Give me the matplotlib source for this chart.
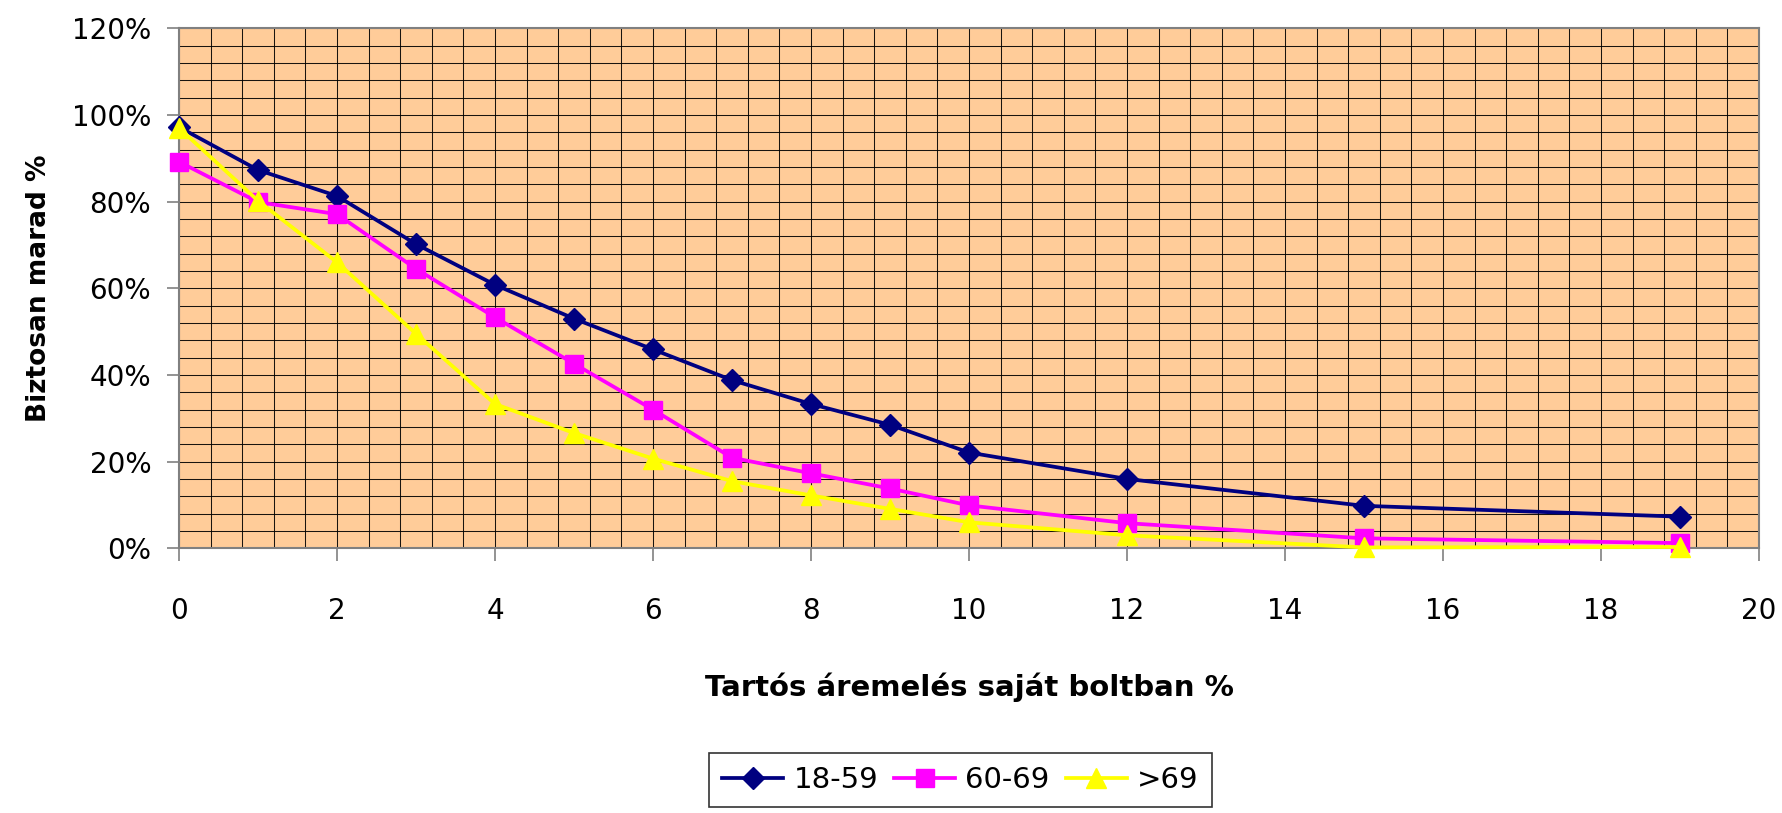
import numpy as np
import matplotlib
matplotlib.use("Agg")
import matplotlib.pyplot as plt
from matplotlib.ticker import MultipleLocator, FuncFormatter

# Adatok (leolvasva a diagramról)
aremeles = [0, 1, 2, 3, 4, 5, 6, 7, 8, 9, 10, 12, 15, 19]
kor_18_59 = [97.2, 87.3, 81.3, 70.2, 60.8, 53.0, 45.9, 38.8, 33.3, 28.5, 22.1, 16.0, 9.8, 7.3]
kor_60_69 = [89.2, 79.9, 77.1, 64.5, 53.3, 42.6, 32.0, 20.9, 17.3, 13.8, 9.9, 5.8, 2.3, 1.2]
kor_69_felett = [97.0, 80.2, 66.0, 49.5, 33.3, 26.6, 20.7, 15.5, 12.2, 9.1, 6.0, 3.0, 0.2, 0.3]

sorozat_nevek = ["18-59", "60-69", ">69"]

plt.rcParams['font.family'] = ['DejaVu Sans']

fig = plt.figure(figsize=(17.83, 8.13), dpi=100)
ax = fig.add_axes([0.1004, 0.3256, 0.8861, 0.6396])
ax.set_facecolor('#FFCC99')

ax.plot(aremeles, kor_18_59, color='#000080', lw=2.7, marker='D', markersize=11,
        label=sorozat_nevek[0], zorder=3, clip_on=False)
ax.plot(aremeles, kor_60_69, color='#FF00FF', lw=2.7, marker='s', markersize=12.5,
        label=sorozat_nevek[1], zorder=4, clip_on=False)
ax.plot(aremeles, kor_69_felett, color='#FFFF00', lw=2.7, marker='^', markersize=14,
        label=sorozat_nevek[2], zorder=5, clip_on=False)

ax.set_xlim(0, 20)
ax.set_ylim(0, 120)
ax.xaxis.set_major_locator(MultipleLocator(2))
ax.yaxis.set_major_locator(MultipleLocator(20))
ax.xaxis.set_minor_locator(MultipleLocator(0.4))
ax.yaxis.set_minor_locator(MultipleLocator(4))
ax.yaxis.set_major_formatter(FuncFormatter(lambda v, p: f"{v:.0f}%"))

ax.grid(which='both', color='black', lw=0.75, alpha=0.9, zorder=1)
ax.set_axisbelow(True)

ax.tick_params(which='minor', length=0)
ax.tick_params(which='major', direction='out', length=9, width=1.2, color='#808080',
               labelsize=20)
ax.tick_params(axis='x', which='major', pad=26)
ax.tick_params(axis='y', which='major', pad=11)

for s in ax.spines.values():
    s.set_color('#808080')
    s.set_linewidth(1.5)

ax.set_xlabel('Tartós áremelés saját boltban %', fontsize=21, fontweight='bold', labelpad=34)
ax.set_ylabel('Biztosan marad %', fontsize=19, fontweight='bold', labelpad=14)

leg = ax.legend(loc='upper center', bbox_to_anchor=(0.5386, 0.0738),
                bbox_transform=fig.transFigure, ncol=3, fontsize=21,
                frameon=True, fancybox=False, edgecolor='black',
                handlelength=2.1, columnspacing=0.55, handletextpad=0.35,
                borderpad=0.45, borderaxespad=0)
leg.get_frame().set_linewidth(1.2)

fig.savefig('out.png', dpi=100)
